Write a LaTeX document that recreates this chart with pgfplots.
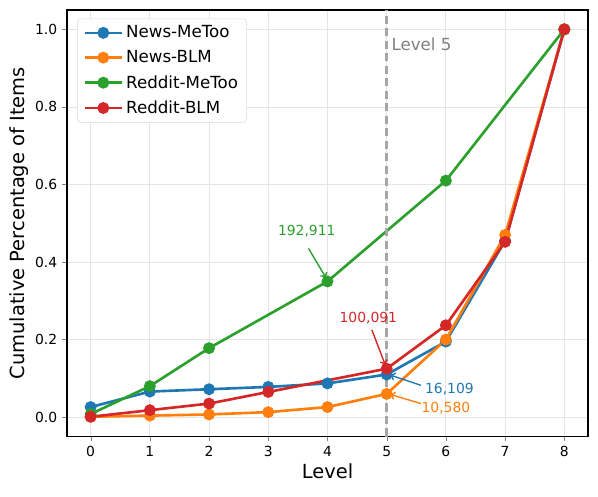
\documentclass[border=0pt]{standalone}
\usepackage{fontspec}
\setmainfont{DejaVu Sans}
\usepackage{pgfplots}
\pgfplotsset{compat=1.18}
\usetikzlibrary{arrows.meta}

\definecolor{tabblue}{HTML}{1F77B4}
\definecolor{taborange}{HTML}{FF7F0E}
\definecolor{tabgreen}{HTML}{2CA02C}
\definecolor{tabred}{HTML}{D62728}

\begin{document}
\begin{tikzpicture}
\begin{axis}[
  scale only axis,
  width=375pt, height=307pt,
  xmin=-0.4, xmax=8.4, ymin=-0.05, ymax=1.05,
  xtick={0,1,...,8},
  ytick={0,0.2,...,1.0},
  yticklabel style={/pgf/number format/fixed,/pgf/number format/precision=1,/pgf/number format/fixed zerofill},
  /pgf/number format/assume math mode=true,
  tick label style={font=\fontsize{10}{12}\selectfont},
  tick align=outside, tick pos=left,
  major tick length=3.5pt,
  grid=major,
  grid style={gray!20, line width=0.6pt},
  axis line style={line width=0.8pt},
  xlabel={Level}, ylabel={Cumulative Percentage of Items},
  label style={font=\fontsize{14}{16}\selectfont},
  xlabel style={yshift=2pt},
  ylabel style={yshift=-2pt},
  every axis plot/.append style={line width=1.9pt, mark=*, mark size=3.3pt},
  legend cell align=left,
  legend style={font=\fontsize{12}{14}\selectfont, draw=gray!30, rounded corners=2pt,
    inner xsep=4pt, inner ysep=3pt, row sep=3.6pt, at={(0.02,0.98)}, anchor=north west},
  legend image code/.code={
    \draw[mark repeat=2,mark phase=2] plot coordinates {(0pt,0pt) (13.5pt,0pt) (27pt,0pt)};
  },
]
\addplot[color=tabblue, mark options={fill=tabblue}] coordinates {
(0,0.026) (1,0.066) (2,0.072) (3,0.078) (4,0.087) (5,0.110) (6,0.195) (7,0.455) (8,1.0)
};
\addlegendentry{News-MeToo}
\addplot[color=taborange, mark options={fill=taborange}] coordinates {
(0,0.001) (1,0.004) (2,0.007) (3,0.013) (4,0.026) (5,0.060) (6,0.200) (7,0.470) (8,1.0)
};
\addlegendentry{News-BLM}
\addplot[color=tabgreen, mark options={fill=tabgreen}] coordinates {
(0,0.008) (1,0.080) (2,0.178) (4,0.350) (6,0.610) (8,1.0)
};
\addlegendentry{Reddit-MeToo}
\addplot[color=tabred, mark options={fill=tabred}] coordinates {
(0,0.001) (1,0.018) (2,0.035) (3,0.065) (5,0.125) (6,0.237) (7,0.452) (8,1.0)
};
\addlegendentry{Reddit-BLM}

\draw[gray!70, line width=1.8pt, dash pattern=on 6pt off 3pt] (axis cs:5,-0.05) -- (axis cs:5,1.05);
\node[anchor=west, gray, font=\fontsize{12}{14}\selectfont] at (axis cs:5.0,0.962) {Level 5};

\draw[-{To[length=4pt,width=6pt]}, tabgreen, line width=1pt] (axis cs:3.68,0.435) -- (axis cs:3.98,0.358);
\node[tabgreen, font=\fontsize{10}{12}\selectfont] at (axis cs:3.65,0.48) {192,911};
\draw[-{To[length=4pt,width=6pt]}, tabred, line width=1pt] (axis cs:4.75,0.225) -- (axis cs:4.98,0.133);
\node[tabred, font=\fontsize{10}{12}\selectfont] at (axis cs:4.69,0.256) {100,091};
\draw[-{To[length=4pt,width=6pt]}, tabblue, line width=1pt] (axis cs:5.58,0.082) -- (axis cs:5.05,0.109);
\node[tabblue, font=\fontsize{10}{12}\selectfont] at (axis cs:6.06,0.072) {16,109};
\draw[-{To[length=4pt,width=6pt]}, taborange, line width=1pt] (axis cs:5.58,0.035) -- (axis cs:5.05,0.059);
\node[taborange, font=\fontsize{10}{12}\selectfont] at (axis cs:6.0,0.024) {10,580};
\end{axis}
\pgfresetboundingbox
\path[use as bounding box] (-48.2pt,-43.2pt) rectangle (382.2pt,314.2pt);
\end{tikzpicture}
\end{document}
